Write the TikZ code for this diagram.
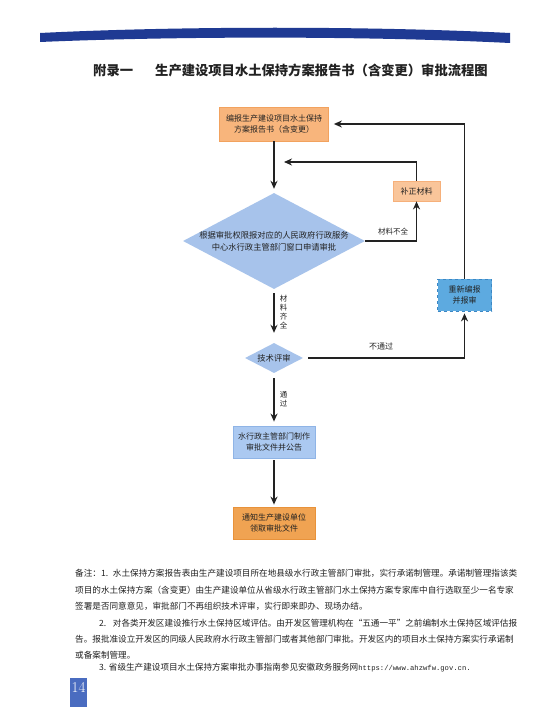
\documentclass[tikz,border=0pt]{standalone}
\usepackage{fontspec}
\newfontfamily\cjk{Noto Sans CJK SC}
\newfontfamily\mono{Liberation Mono}
\usetikzlibrary{shapes.geometric,arrows.meta}
\XeTeXlinebreaklocale "zh"
\XeTeXlinebreakskip=0pt plus 1fil
\definecolor{barblue}{HTML}{1F3A93}
\definecolor{orF}{HTML}{F8B57C}
\definecolor{orD}{HTML}{F2A25E}
\definecolor{orLF}{HTML}{F9C59A}
\definecolor{orLD}{HTML}{F6B07A}
\definecolor{orSF}{HTML}{F0A352}
\definecolor{orSD}{HTML}{E8923A}
\definecolor{blueDia}{HTML}{A7C3EB}
\definecolor{blueBF}{HTML}{ABC9F1}
\definecolor{blueBD}{HTML}{8FB4E6}
\definecolor{blueCF}{HTML}{5DAAE0}
\definecolor{blueCD}{HTML}{3B87C4}
\definecolor{pnblue}{HTML}{4A6CC0}
\definecolor{ink}{HTML}{222222}
\begin{document}
\begin{tikzpicture}[x=1pt,y=-1pt,
  box/.style={draw, line width=0.8pt, align=center, inner sep=0pt, font=\cjk\fontsize{8}{11.5}\selectfont, text=ink},
  dia/.style={diamond, fill=blueDia, inner sep=0pt},
  dtext/.style={align=center, inner sep=0pt, font=\cjk\fontsize{8.3}{12}\selectfont, text=ink},
  arr/.style={line width=1.6pt, draw=ink, -{Stealth[length=8pt,width=7pt]}},
  lab/.style={font=\cjk\fontsize{7.5}{9}\selectfont, inner sep=0pt, text=ink, align=center},
  note/.style={anchor=west, inner sep=0pt, font=\cjk\fontsize{8.6}{10}\selectfont, text=ink},
  ttl/.style={anchor=west, inner sep=0pt, font=\cjk\bfseries\fontsize{13.3}{14}\selectfont, text=ink}]
\useasboundingbox (0,0) rectangle (554,725);
\fill[white] (0,0) rectangle (554,725);
% top bar
\fill[barblue] (40,33) .. controls (180,26) and (370,26) .. (510,33) -- (510,43) .. controls (370,36) and (180,36) .. (40,42) -- cycle;
% title
\node[ttl] (t0) at (93,70) {附录一};
\node[ttl] (t1) at (155,70) {生产建设项目水土保持方案报告书（含变更）审批流程图};
% nodes
\node[box, fill=orF, draw=orD, minimum width=109pt, minimum height=34pt] (b1) at (274,124) {编报生产建设项目水土保持\\方案报告书（含变更）};
\node[dia, minimum width=182pt, minimum height=96pt] (d1) at (274,241) {};
\node[dtext] (d1t) at (d1) {根据审批权限报对应的人民政府行政服务\\中心水行政主管部门窗口申请审批};
\node[box, fill=orLF, draw=orLD, minimum width=47pt, minimum height=20pt] (bz) at (416.5,191) {补正材料};
\node[box, fill=blueCF, draw=blueCD, dashed, minimum width=54pt, minimum height=32pt] (cx) at (464.5,295) {重新编报\\并报审};
\node[dia, minimum width=58pt, minimum height=30pt] (d2) at (274,358) {};
\node[dtext] (d2t) at (d2) {技术评审};
\node[box, fill=blueBF, draw=blueBD, minimum width=82pt, minimum height=32pt] (b3) at (274,442) {水行政主管部门制作\\审批文件并公告};
\node[box, fill=orSF, draw=orSD, minimum width=82pt, minimum height=32pt] (b4) at (274,523) {通知生产建设单位\\领取审批文件};
% connectors
\coordinate (m1) at (284,162);
\draw[arr, shorten >=4pt] (b1.south) -- (d1.north);
\draw[arr] (d1.east) -| (bz.south);
\draw[arr] (bz.north) |- (m1);
\draw[arr, shorten >=5pt] (cx.north) |- (b1.east);
\draw[arr, shorten <=4pt, shorten >=10pt] (d1.south) -- (d2.north);
\draw[arr, shorten <=5pt, shorten >=2pt] (d2.east) -| (cx.south);
\draw[arr, shorten <=5pt, shorten >=4pt] (d2.south) -- (b3.north);
\draw[arr, shorten <=2pt, shorten >=2pt] (b3.south) -- (b4.north);
% labels
\node[lab] (l1) at (393,232) {材料不全};
\node[lab] (l2) at (283.5,312) {材\\料\\齐\\全};
\node[lab, font=\cjk\fontsize{8}{9}\selectfont] (l3) at (381,346) {不通过};
\node[lab] (l4) at (283.5,399) {通\\过};
% notes
\node[note] (n1) at (75,573) {\makebox[442pt][s]{备注：1. 水土保持方案报告表由生产建设项目所在地县级水行政主管部门审批，实行承诺制管理。承诺制管理指该类}};
\node[note] (n2) at (75,590) {\makebox[442pt][s]{项目的水土保持方案（含变更）由生产建设单位从省级水行政主管部门水土保持方案专家库中自行选取至少一名专家}};
\node[note] (n3) at (75,606) {签署是否同意意见，审批部门不再组织技术评审，实行即来即办、现场办结。};
\node[note] (n4) at (99,623) {\makebox[418pt][s]{2. 对各类开发区建设推行水土保持区域评估。由开发区管理机构在“五通一平”之前编制水土保持区域评估报}};
\node[note] (n5) at (75,639) {\makebox[442pt][s]{告。报批准设立开发区的同级人民政府水行政主管部门或者其他部门审批。开发区内的项目水土保持方案实行承诺制}};
\node[note] (n6) at (75,655) {或备案制管理。};
\node[note] (n7) at (99,668) {3. 省级生产建设项目水土保持方案审批办事指南参见安徽政务服务网{\mono\fontsize{7.2}{9}\selectfont https://www.ahzwfw.gov.cn.}};
% page number
\node[fill=pnblue, minimum width=17pt, minimum height=29pt, inner sep=0pt] (pnbox) at (78.5,692.5) {};
\node[text=white, font=\fontsize{15}{15}\selectfont, inner sep=0pt] (pn) at (78.5,687) {14};
\end{tikzpicture}
\end{document}
